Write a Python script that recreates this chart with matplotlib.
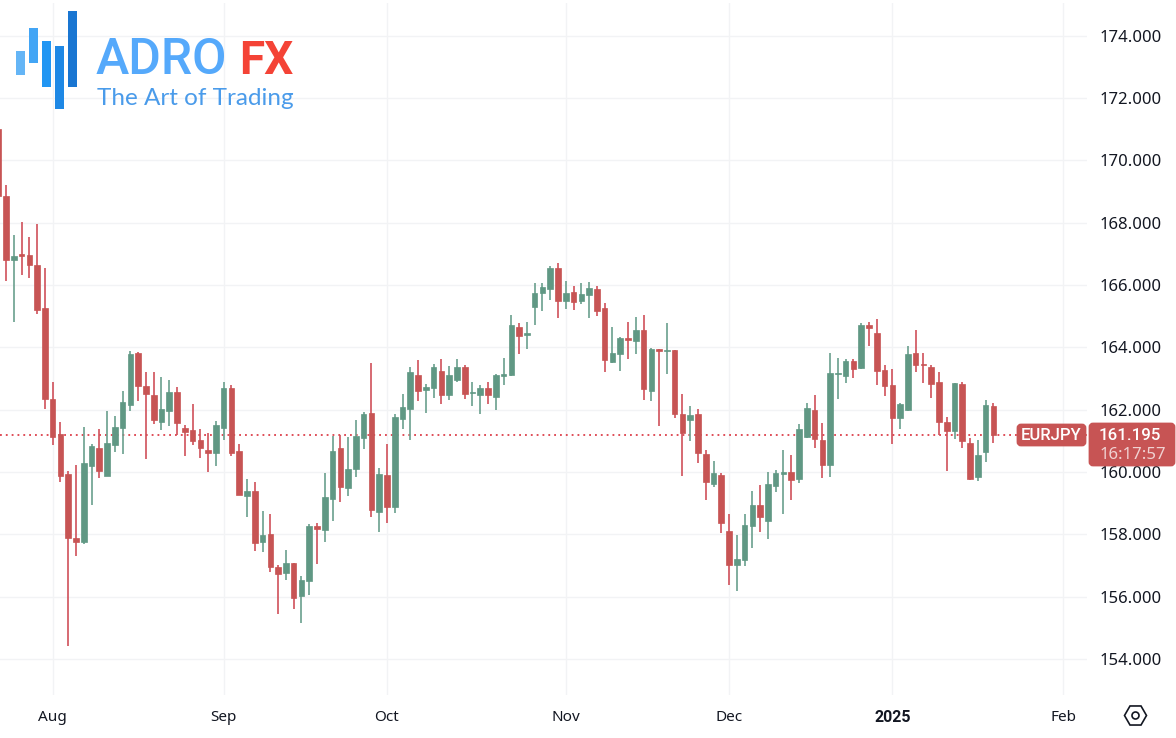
import numpy as np
import matplotlib
matplotlib.use("Agg")
import matplotlib.pyplot as plt
from matplotlib.patches import Rectangle, FancyBboxPatch, RegularPolygon, Circle

# daily EURJPY candles (weekdays only)
highs = [171.01,169.21,167.61,168.02,167.54,167.96,166.56,162.89,161.60,160.03,
         160.22,161.45,160.90,161.38,161.96,161.79,162.60,163.88,163.85,163.21,
         163.20,163.05,162.94,162.72,161.51,162.18,161.38,161.26,161.63,162.89,
         162.79,160.90,159.77,159.69,158.75,158.65,157.01,157.50,157.09,156.67,
         158.33,158.36,159.96,161.15,161.19,161.11,161.67,161.92,163.50,160.13,
         160.90,161.86,162.50,163.37,163.59,162.82,163.46,163.62,163.40,163.62,
         163.43,162.89,162.79,162.88,163.14,163.66,165.04,164.78,164.80,166.06,
         166.06,166.61,166.71,166.13,165.97,166.06,166.10,165.97,165.42,164.65,
         164.33,164.81,164.97,165.04,163.97,163.95,164.78,163.91,162.50,162.12,
         162.02,160.70,160.35,159.97,158.65,157.98,158.65,159.39,159.58,160.00,
         160.06,160.70,160.54,161.54,162.21,162.47,161.57,163.81,163.66,163.62,
         163.62,164.77,164.81,164.91,163.43,163.30,162.21,164.04,164.55,163.82,
         163.42,163.21,161.77,162.85,162.89,161.09,161.02,162.31,162.21]
opens = [171.01,168.86,166.79,166.99,166.96,166.63,165.26,162.34,161.22,159.93,
         157.88,157.75,160.19,160.77,159.86,160.87,161.42,162.16,163.82,162.76,
         162.47,161.61,161.96,162.57,161.41,161.36,161.02,160.70,160.61,161.42,
         162.69,160.68,159.24,159.39,157.75,158.01,156.95,156.76,157.08,156.02,
         156.51,158.26,158.14,159.13,160.77,159.48,160.10,161.10,161.89,158.70,
         159.90,158.88,161.70,162.02,163.12,162.63,162.69,163.24,162.47,162.95,
         163.38,162.52,162.47,162.69,162.40,163.08,163.10,164.65,164.40,165.30,
         165.74,165.87,166.55,165.48,165.78,165.49,165.68,165.87,165.26,163.53,
         163.79,164.29,164.21,164.56,162.60,163.95,163.88,163.91,161.86,161.67,
         161.86,160.58,159.61,159.90,158.10,157.01,157.17,158.27,158.94,158.42,
         159.55,159.94,160.00,159.77,161.12,161.99,161.02,160.22,163.13,163.08,
         163.55,163.33,164.72,164.47,163.27,162.79,161.73,161.99,163.81,163.47,
         163.38,162.88,161.61,161.31,162.82,160.94,159.84,160.64,162.12]
closes = [168.86,166.80,166.94,166.93,166.65,165.20,162.34,161.13,159.86,157.88,
          157.75,160.28,160.83,160.04,160.93,161.43,162.24,163.79,162.77,162.51,
          161.68,162.02,162.57,161.58,161.29,161.00,160.77,160.61,161.51,162.69,
          160.62,159.27,159.39,157.73,157.98,156.96,156.73,157.08,155.96,156.53,
          158.26,158.17,159.19,160.67,159.53,160.09,161.15,161.86,158.77,159.92,
          158.88,161.76,162.08,163.21,162.61,162.73,163.36,162.48,163.11,163.38,
          162.50,162.56,162.70,162.47,163.11,163.14,164.72,164.37,164.45,165.74,
          165.94,166.56,165.49,165.74,165.45,165.71,165.90,165.17,163.59,163.82,
          164.30,164.23,164.56,162.66,163.95,163.89,163.91,161.86,161.25,161.83,
          160.61,159.68,159.97,158.36,157.01,157.20,158.30,158.94,158.55,159.61,
          159.97,160.01,159.74,161.38,162.04,161.06,160.22,163.18,163.18,163.55,
          163.29,164.71,164.62,163.25,162.76,161.73,162.18,163.79,163.43,163.44,
          162.82,161.60,161.31,162.84,160.99,159.77,160.53,162.15,161.195]
lows = [168.82,166.13,164.82,166.33,166.23,165.08,162.02,160.86,159.69,154.41,
        157.30,157.69,158.95,159.80,159.86,160.65,160.58,161.96,162.29,160.42,
        161.55,161.36,161.48,161.19,160.51,160.86,160.45,160.01,160.19,161.02,
        160.51,159.26,158.56,157.47,157.43,156.80,155.45,156.54,155.61,155.16,
        156.06,157.05,157.76,158.42,159.03,159.23,159.85,160.74,158.56,158.08,
        158.36,158.69,161.38,161.02,162.29,161.90,162.38,162.19,162.31,162.89,
        162.34,162.12,161.86,162.18,161.99,162.78,163.08,163.79,163.95,164.73,
        165.17,165.52,164.94,165.23,165.20,165.39,164.94,165.00,163.21,163.50,
        163.24,163.62,163.79,162.31,162.28,161.47,163.14,161.73,159.87,160.99,
        160.29,159.10,159.52,158.05,156.37,156.18,156.98,157.56,158.08,157.85,
        159.36,158.65,159.10,159.64,161.09,160.77,159.80,159.85,162.34,162.85,
        163.02,163.30,164.03,162.79,162.45,160.90,161.38,161.96,163.21,162.85,
        162.37,161.19,160.03,161.06,160.77,159.74,159.71,160.32,160.93]

month_pos = [7, 29, 50, 73, 94, 115, 137]
month_labels = ["Aug", "Sep", "Oct", "Nov", "Dec", "2025", "Feb"]
price_ticks = list(range(154, 176, 2))
last_price = 161.195

RED = "#c75454"
GREEN = "#609884"
WICK_RED = "#d0505a"
WICK_GREEN = "#6a9f8d"
GRID = "#f2f3f5"
DARK = "#131722"
FONT = "Noto Sans"

W, H = 1176, 738
fig = plt.figure(figsize=(W / 100, H / 100), dpi=100, facecolor="white")
ax = fig.add_axes([0, (H - 695) / H, 1087 / W, 692 / H])
ax.set_xlim(0.228, 140.04)
ax.set_ylim(152.84, 175.05)

x = np.arange(len(opens))
o = np.array(opens)
c = np.array(closes)
up = c >= o
wick_cols = [WICK_GREEN if u else WICK_RED for u in up]
body_cols = [GREEN if u else RED for u in up]

ax.axhline(last_price, color="#d9303c", lw=1.2, ls=(0, (1.1, 2.4)), zorder=1.5)
ax.vlines(x, lows, highs, colors=wick_cols, lw=1.2, zorder=2)
ax.bar(x, np.abs(c - o), bottom=np.minimum(o, c), width=0.72, color=body_cols,
       edgecolor=body_cols, linewidth=0.5, zorder=3)

ax.set_xticks(month_pos)
ax.set_xticklabels(month_labels, fontsize=11, color=DARK, family=FONT)
ax.yaxis.tick_right()
ax.set_yticks(price_ticks)
ax.set_yticklabels(["%.3f" % p for p in price_ticks], fontsize=12, color=DARK, family=FONT)
ax.tick_params(axis="both", length=0)
ax.tick_params(axis="x", pad=11)
ax.tick_params(axis="y", pad=9)
ax.grid(True, color=GRID, lw=1.0)
ax.set_axisbelow(True)
for s in ax.spines.values():
    s.set_visible(False)

# Noto Sans only has a regular face here, so the bold year uses Roboto
year_label = ax.get_xticklabels()[5]
year_label.set_family("Roboto")
year_label.set_fontweight("bold")
year_label.set_fontsize(11.5)

# overlay in picture pixels for the logo, the price tags and the settings icon
ov = fig.add_axes([0, 0, 1, 1], facecolor="none")
ov.set_xlim(0, W)
ov.set_ylim(H, 0)
ov.axis("off")

logo_bars = [(16, 51, 75, "#64b5f6"), (29, 28, 63, "#42a5f5"), (42, 41, 87, "#2196f3"),
             (55, 46, 109, "#1e88e5"), (68, 11, 87, "#1976d2")]
for bx, top, bot, col in logo_bars:
    ov.add_patch(Rectangle((bx, top), 9, bot - top, color=col, lw=0))
ov.text(96, 74, "ADRO", fontsize=36, family="Roboto", weight="medium", color="#55a9fb", va="baseline")
ov.text(239, 74, "FX", fontsize=33, family="Roboto", weight="bold", color="#f44336", va="baseline")
ov.text(97, 105, "The Art of Trading", fontsize=17.5, family="Lato", weight="normal", color="#4a9bea", va="baseline")

ov.add_patch(FancyBboxPatch((1018, 425), 67, 20, boxstyle="round,pad=0,rounding_size=3",
                            mutation_aspect=1, fc=RED, ec=RED, lw=2))
ov.add_patch(FancyBboxPatch((1090, 424), 84, 41, boxstyle="round,pad=0,rounding_size=3",
                            mutation_aspect=1, fc=RED, ec=RED, lw=2))
ov.text(1051.5, 435, "EURJPY", fontsize=12, family="Roboto", weight="medium", color="white", ha="center", va="center")
ov.text(1130, 435, "161.195", fontsize=12.2, family="Roboto", weight="medium", color="white", ha="center", va="center")
ov.text(1133, 455, "16:17:57", fontsize=12, family=FONT, color="#f0d2d2", ha="center", va="center")

ov.add_patch(RegularPolygon((1135.5, 715.5), 6, radius=11, orientation=np.pi / 6,
                            fc="none", ec=DARK, lw=1.2))
ov.add_patch(Circle((1135.5, 715.5), 3.5, fc="none", ec=DARK, lw=1.2))

fig.savefig("out.png", dpi=100)
